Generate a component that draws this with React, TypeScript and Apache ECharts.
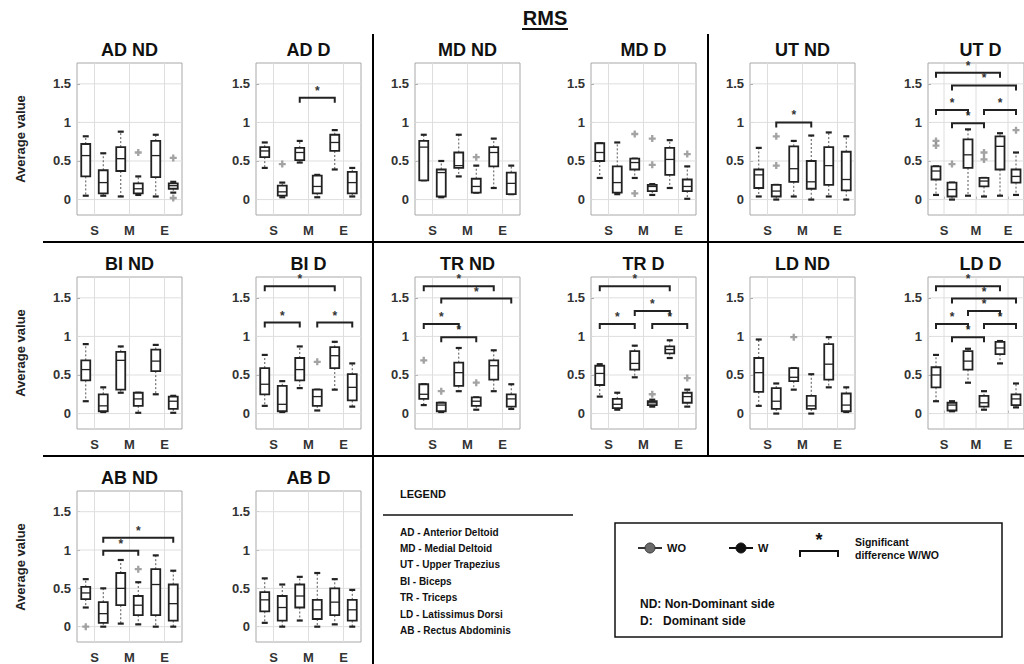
import React, { useEffect, useRef } from "react";
import * as echarts from "echarts";

// ---------- DATA ----------
const POSITIONS = [1, 2, 3, 4, 5, 6]; // S-WO, S-W, M-WO, M-W, E-WO, E-W
const X_TICKS = [1.5, 3.5, 5.5];
const X_LABELS = ["S", "M", "E"];
const Y_TICKS = [0, 0.5, 1, 1.5];
const Y_MIN = -0.2;
const Y_MAX = 1.77;

// each box: [lower whisker, Q1, median, Q3, upper whisker]
const AD_ND_BOXES = [[0.05, 0.30, 0.57, 0.72, 0.82], [0.05, 0.08, 0.22, 0.38, 0.60], [0.04, 0.37, 0.53, 0.68, 0.88], [0.06, 0.08, 0.14, 0.21, 0.30], [0.04, 0.29, 0.57, 0.76, 0.84], [0.09, 0.14, 0.18, 0.21, 0.23]];
const AD_ND_OUTLIERS = [[4, 0.61], [6, 0.54], [6, 0.02]];
const AD_ND_BRACKETS: number[][] = [];

const AD_D_BOXES = [[0.41, 0.55, 0.63, 0.68, 0.74], [0.03, 0.05, 0.10, 0.18, 0.22], [0.48, 0.51, 0.61, 0.67, 0.76], [0.03, 0.08, 0.17, 0.31, 0.32], [0.39, 0.63, 0.74, 0.84, 0.90], [0.04, 0.08, 0.22, 0.36, 0.41]];
const AD_D_OUTLIERS = [[2, 0.46]];
const AD_D_BRACKETS = [[3, 5, 1.32]];

const MD_ND_BOXES = [[0.25, 0.25, 0.68, 0.76, 0.84], [0.03, 0.04, 0.35, 0.39, 0.50], [0.30, 0.41, 0.44, 0.61, 0.84], [0.09, 0.09, 0.17, 0.27, 0.44], [0.15, 0.43, 0.61, 0.68, 0.79], [0.07, 0.07, 0.21, 0.35, 0.44]];
const MD_ND_OUTLIERS = [[4, 0.55]];
const MD_ND_BRACKETS: number[][] = [];

const MD_D_BOXES = [[0.28, 0.50, 0.61, 0.73, 0.73], [0.07, 0.09, 0.22, 0.43, 0.74], [0.28, 0.39, 0.48, 0.53, 0.53], [0.06, 0.11, 0.17, 0.19, 0.20], [0.15, 0.32, 0.52, 0.67, 0.77], [0.01, 0.11, 0.17, 0.26, 0.43]];
const MD_D_OUTLIERS = [[3, 0.85], [3, 0.08], [4, 0.79], [4, 0.45], [6, 0.59]];
const MD_D_BRACKETS: number[][] = [];

const UT_ND_BOXES = [[0.04, 0.15, 0.32, 0.39, 0.67], [0.0, 0.04, 0.11, 0.19, 0.19], [0.04, 0.23, 0.40, 0.69, 0.76], [0.0, 0.14, 0.23, 0.50, 0.83], [0.04, 0.19, 0.44, 0.68, 0.87], [0.0, 0.12, 0.26, 0.62, 0.82]];
const UT_ND_OUTLIERS = [[2, 0.82], [2, 0.44]];
const UT_ND_BRACKETS = [[2, 4, 1.0]];

const UT_D_BOXES = [[0.06, 0.26, 0.37, 0.43, 0.43], [0.0, 0.04, 0.13, 0.22, 0.22], [0.05, 0.41, 0.58, 0.78, 0.91], [0.04, 0.17, 0.24, 0.28, 0.28], [0.05, 0.39, 0.69, 0.82, 0.86], [0.06, 0.22, 0.30, 0.39, 0.61]];
const UT_D_OUTLIERS = [[1, 0.76], [1, 0.70], [2, 0.46], [4, 0.61], [4, 0.52], [6, 0.90]];
const UT_D_BRACKETS = [[1, 5, 1.645], [2, 6, 1.48], [1, 3, 1.16], [4, 6, 1.16], [2, 4, 0.99]];

const BI_ND_BOXES = [[0.16, 0.43, 0.57, 0.69, 0.90], [0.02, 0.03, 0.10, 0.25, 0.34], [0.27, 0.31, 0.69, 0.80, 0.87], [0.01, 0.10, 0.19, 0.27, 0.27], [0.25, 0.55, 0.68, 0.83, 0.89], [0.01, 0.06, 0.16, 0.22, 0.23]];
const BI_ND_OUTLIERS: number[][] = [];
const BI_ND_BRACKETS: number[][] = [];

const BI_D_BOXES = [[0.10, 0.25, 0.38, 0.59, 0.76], [0.02, 0.03, 0.12, 0.36, 0.42], [0.33, 0.43, 0.57, 0.72, 0.87], [0.04, 0.10, 0.22, 0.31, 0.31], [0.31, 0.59, 0.75, 0.86, 0.93], [0.09, 0.17, 0.34, 0.51, 0.65]];
const BI_D_OUTLIERS = [[4, 0.67]];
const BI_D_BRACKETS = [[1, 5, 1.65], [1, 3, 1.18], [4, 6, 1.18]];

const TR_ND_BOXES = [[0.11, 0.19, 0.25, 0.38, 0.38], [0.02, 0.03, 0.11, 0.14, 0.14], [0.29, 0.36, 0.53, 0.66, 0.85], [0.05, 0.10, 0.16, 0.21, 0.21], [0.29, 0.44, 0.62, 0.69, 0.82], [0.06, 0.09, 0.19, 0.25, 0.38]];
const TR_ND_OUTLIERS = [[1, 0.69], [2, 0.29], [4, 0.40]];
const TR_ND_BRACKETS = [[1, 5, 1.65], [2, 6, 1.49], [1, 3, 1.16], [2, 4, 0.99]];

const TR_D_BOXES = [[0.22, 0.37, 0.52, 0.62, 0.64], [0.05, 0.07, 0.12, 0.19, 0.27], [0.47, 0.57, 0.65, 0.81, 0.88], [0.09, 0.11, 0.14, 0.16, 0.18], [0.72, 0.78, 0.83, 0.87, 0.95], [0.09, 0.14, 0.22, 0.27, 0.31]];
const TR_D_OUTLIERS = [[4, 0.25], [6, 0.46]];
const TR_D_BRACKETS = [[1, 5, 1.65], [3, 5, 1.33], [1, 3, 1.16], [4, 6, 1.16]];

const LD_ND_BOXES = [[0.10, 0.28, 0.53, 0.72, 0.96], [0.0, 0.06, 0.16, 0.33, 0.39], [0.31, 0.42, 0.47, 0.59, 0.59], [0.0, 0.06, 0.10, 0.23, 0.51], [0.34, 0.44, 0.64, 0.90, 0.99], [0.02, 0.03, 0.11, 0.26, 0.34]];
const LD_ND_OUTLIERS = [[3, 0.99]];
const LD_ND_BRACKETS: number[][] = [];

const LD_D_BOXES = [[0.16, 0.34, 0.50, 0.60, 0.76], [0.03, 0.04, 0.11, 0.14, 0.16], [0.40, 0.57, 0.68, 0.81, 0.84], [0.05, 0.09, 0.14, 0.23, 0.29], [0.65, 0.77, 0.85, 0.93, 0.94], [0.08, 0.11, 0.19, 0.25, 0.39]];
const LD_D_OUTLIERS: number[][] = [];
const LD_D_BRACKETS = [[1, 5, 1.65], [2, 6, 1.49], [3, 5, 1.33], [1, 3, 1.16], [4, 6, 1.16], [2, 4, 0.99]];

const AB_ND_BOXES = [[0.25, 0.36, 0.44, 0.52, 0.62], [0.0, 0.05, 0.17, 0.32, 0.50], [0.04, 0.28, 0.50, 0.70, 0.87], [0.03, 0.15, 0.28, 0.40, 0.58], [0.0, 0.15, 0.55, 0.75, 0.93], [0.0, 0.08, 0.30, 0.55, 0.73]];
const AB_ND_OUTLIERS = [[1, 0.0], [4, 0.75]];
const AB_ND_BRACKETS = [[2, 6, 1.16], [2, 4, 0.99]];

const AB_D_BOXES = [[0.05, 0.20, 0.35, 0.45, 0.63], [0.0, 0.08, 0.25, 0.40, 0.55], [0.08, 0.25, 0.40, 0.55, 0.65], [0.0, 0.10, 0.22, 0.35, 0.70], [0.03, 0.15, 0.32, 0.50, 0.62], [0.0, 0.08, 0.22, 0.35, 0.48]];
const AB_D_OUTLIERS: number[][] = [];
const AB_D_BRACKETS: number[][] = [];

const PANEL_TITLES = ["AD ND", "AD D", "MD ND", "MD D", "UT ND", "UT D", "BI ND", "BI D", "TR ND", "TR D", "LD ND", "LD D", "AB ND", "AB D"];
const PANEL_BOXES = [AD_ND_BOXES, AD_D_BOXES, MD_ND_BOXES, MD_D_BOXES, UT_ND_BOXES, UT_D_BOXES, BI_ND_BOXES, BI_D_BOXES, TR_ND_BOXES, TR_D_BOXES, LD_ND_BOXES, LD_D_BOXES, AB_ND_BOXES, AB_D_BOXES];
const PANEL_OUTLIERS = [AD_ND_OUTLIERS, AD_D_OUTLIERS, MD_ND_OUTLIERS, MD_D_OUTLIERS, UT_ND_OUTLIERS, UT_D_OUTLIERS, BI_ND_OUTLIERS, BI_D_OUTLIERS, TR_ND_OUTLIERS, TR_D_OUTLIERS, LD_ND_OUTLIERS, LD_D_OUTLIERS, AB_ND_OUTLIERS, AB_D_OUTLIERS];
const PANEL_BRACKETS = [AD_ND_BRACKETS, AD_D_BRACKETS, MD_ND_BRACKETS, MD_D_BRACKETS, UT_ND_BRACKETS, UT_D_BRACKETS, BI_ND_BRACKETS, BI_D_BRACKETS, TR_ND_BRACKETS, TR_D_BRACKETS, LD_ND_BRACKETS, LD_D_BRACKETS, AB_ND_BRACKETS, AB_D_BRACKETS];

const LEGEND_ITEMS = ["AD - Anterior Deltoid", "MD - Medial Deltoid", "UT - Upper Trapezius", "BI - Biceps", "TR - Triceps", "LD - Latissimus Dorsi", "AB - Rectus Abdominis"];

// ---------- LAYOUT ----------
const COL_LEFT = [77, 256, 415, 591, 750, 928];
const ROW_TOP = [63, 277, 491];
const PLOT_W = 105;
const PLOT_H = 152;
const FONT = '"Liberation Sans", Arial, sans-serif';
const INK = "#222";

function renderGridLines(params: any, api: any) {
  const kind = api.value(0);
  const v = api.value(1);
  const cs = params.coordSys;
  const style = { stroke: "#dedede", lineWidth: 1 };
  if (kind === 0) {
    const x = api.coord([v, 0])[0];
    return { type: "line", shape: { x1: x, y1: cs.y, x2: x, y2: cs.y + cs.height }, style };
  }
  const y = api.coord([1, v])[1];
  return { type: "line", shape: { x1: cs.x, y1: y, x2: cs.x + cs.width, y2: y }, style };
}

function renderBox(params: any, api: any) {
  const x = api.value(0);
  const lo = api.coord([x, api.value(1)]);
  const q1 = api.coord([x, api.value(2)]);
  const med = api.coord([x, api.value(3)]);
  const q3 = api.coord([x, api.value(4)]);
  const hi = api.coord([x, api.value(5)]);
  const cx = q1[0];
  const hw = 4.5;
  const cw = 3;
  const thin = { stroke: "#555", lineWidth: 1, lineDash: [2, 2] };
  const cap = { stroke: INK, lineWidth: 2.2 };
  return {
    type: "group",
    children: [
      { type: "line", shape: { x1: cx, y1: q3[1], x2: cx, y2: hi[1] }, style: thin },
      { type: "line", shape: { x1: cx, y1: q1[1], x2: cx, y2: lo[1] }, style: thin },
      { type: "line", shape: { x1: cx - cw, y1: hi[1], x2: cx + cw, y2: hi[1] }, style: cap },
      { type: "line", shape: { x1: cx - cw, y1: lo[1], x2: cx + cw, y2: lo[1] }, style: cap },
      { type: "rect", shape: { x: cx - hw, y: q3[1], width: hw * 2, height: Math.max(1, q1[1] - q3[1]) }, style: { stroke: INK, fill: "#fff", lineWidth: 1.8 } },
      { type: "line", shape: { x1: cx - hw, y1: med[1], x2: cx + hw, y2: med[1] }, style: { stroke: INK, lineWidth: 1.3 } },
    ],
  };
}

function renderBracket(params: any, api: any) {
  const p1 = api.coord([api.value(0), api.value(2)]);
  const p2 = api.coord([api.value(1), api.value(2)]);
  return {
    type: "group",
    children: [
      { type: "polyline", shape: { points: [[p1[0], p1[1] + 5], [p1[0], p1[1]], [p2[0], p2[1]], [p2[0], p2[1] + 5]] }, style: { stroke: INK, lineWidth: 2, fill: "none" } },
      { type: "text", x: (p1[0] + p2[0]) / 2, y: p1[1] - 1, style: { text: "*", fontSize: 12, fontWeight: "bold", fill: "#333", align: "center", verticalAlign: "bottom", fontFamily: FONT } },
    ],
  };
}

const PLUS = "path://M2,0H4V2H6V4H4V6H2V4H0V2H2Z";

export default function App() {
  const ref = useRef<HTMLDivElement>(null);

  useEffect(() => {
    if (!ref.current) return;
    const chart = echarts.init(ref.current, undefined, { renderer: "svg" });

    const grids: any[] = [];
    const xAxes: any[] = [];
    const yAxes: any[] = [];
    const series: any[] = [];
    const graphics: any[] = [];

    PANEL_TITLES.forEach((title, i) => {
      const row = Math.floor(i / 6);
      const col = i % 6;
      const left = COL_LEFT[col];
      const top = ROW_TOP[row];
      grids.push({ left, top, width: PLOT_W, height: PLOT_H, show: true, borderColor: "#a8a8a8", borderWidth: 1, backgroundColor: "#fff", containLabel: false });
      xAxes.push({
        type: "value", gridIndex: i, min: 0.5, max: 6.5,
        axisLine: { show: false },
        splitLine: { show: false },
        axisTick: { show: true, inside: true, length: 3, customValues: X_TICKS, lineStyle: { color: "#999" } },
        axisLabel: {
          customValues: X_TICKS, margin: 9, color: "#333", fontWeight: "bold", fontSize: 13, fontFamily: FONT,
          formatter: (v: number) => { const k = X_TICKS.indexOf(v); return k >= 0 ? X_LABELS[k] : ""; },
        },
      });
      yAxes.push({
        type: "value", gridIndex: i, min: Y_MIN, max: Y_MAX,
        axisLine: { show: false },
        splitLine: { show: false },
        axisTick: { show: true, inside: true, length: 3, customValues: Y_TICKS, lineStyle: { color: "#999" } },
        axisLabel: {
          customValues: Y_TICKS, margin: 6, color: "#333", fontWeight: "bold", fontSize: 13, fontFamily: FONT,
          formatter: (v: number) => String(v),
        },
      });
      const gridData = [...X_TICKS.map((v) => [0, v]), ...Y_TICKS.map((v) => [1, v])];
      series.push({ type: "custom", xAxisIndex: i, yAxisIndex: i, z: 1, silent: true, renderItem: renderGridLines, data: gridData });
      series.push({
        type: "custom", xAxisIndex: i, yAxisIndex: i, z: 3, renderItem: renderBox,
        encode: { x: 0, y: [1, 2, 3, 4, 5] },
        data: PANEL_BOXES[i].map((b, k) => [POSITIONS[k], ...b]),
      });
      series.push({
        type: "scatter", xAxisIndex: i, yAxisIndex: i, z: 4, symbol: PLUS, symbolSize: 7,
        itemStyle: { color: "#8c8c8c" }, data: PANEL_OUTLIERS[i],
      });
      series.push({
        type: "custom", xAxisIndex: i, yAxisIndex: i, z: 5, renderItem: renderBracket, clip: false,
        encode: { x: [0, 1], y: 2 },
        data: PANEL_BRACKETS[i],
      });
      graphics.push({
        type: "text", x: left + PLOT_W / 2, y: top - 13,
        style: { text: title, fontSize: 18, fontWeight: "bold", fill: "#111", fontFamily: FONT, align: "center", verticalAlign: "middle" },
      });
      if (col === 0) {
        graphics.push({
          type: "text", x: 20, y: top + PLOT_H / 2, rotation: Math.PI / 2,
          style: { text: "Average value", fontSize: 13, fontWeight: "bold", fill: "#222", fontFamily: FONT, align: "center", verticalAlign: "middle" },
        });
      }
    });

    // Figure title
    graphics.push({ type: "text", x: 545, y: 18, style: { text: "RMS", fontSize: 20, fontWeight: "bold", fill: "#111", fontFamily: FONT, align: "center", verticalAlign: "middle" } });
    graphics.push({ type: "line", shape: { x1: 522, y1: 29, x2: 568, y2: 29 }, style: { stroke: "#111", lineWidth: 1.8 } });

    // Divider lines
    const div = { stroke: "#000", lineWidth: 2 };
    graphics.push({ type: "line", shape: { x1: 373, y1: 34, x2: 373, y2: 664 }, style: div });
    graphics.push({ type: "line", shape: { x1: 708, y1: 34, x2: 708, y2: 456 }, style: div });
    graphics.push({ type: "line", shape: { x1: 43, y1: 242, x2: 1024, y2: 242 }, style: div });
    graphics.push({ type: "line", shape: { x1: 43, y1: 456, x2: 1024, y2: 456 }, style: div });

    // Legend list
    graphics.push({ type: "text", x: 400, y: 494, style: { text: "LEGEND", fontSize: 11, fontWeight: "bold", fill: "#111", fontFamily: FONT, verticalAlign: "middle" } });
    graphics.push({ type: "line", shape: { x1: 383, y1: 515, x2: 573, y2: 515 }, style: { stroke: "#111", lineWidth: 1.5 } });
    LEGEND_ITEMS.forEach((t, k) => {
      graphics.push({ type: "text", x: 400, y: 532 + k * 16.4, style: { text: t, fontSize: 10, fontWeight: "bold", fill: "#111", fontFamily: FONT, verticalAlign: "middle" } });
    });

    // Legend box
    graphics.push({ type: "rect", shape: { x: 615, y: 523, width: 387, height: 114 }, style: { stroke: "#111", lineWidth: 1.5, fill: "none" } });
    graphics.push({ type: "line", shape: { x1: 638, y1: 548, x2: 662, y2: 548 }, style: { stroke: "#333", lineWidth: 2 } });
    graphics.push({ type: "circle", shape: { cx: 650, cy: 548, r: 5 }, style: { fill: "#6a6a6a", stroke: "#333", lineWidth: 1 } });
    graphics.push({ type: "text", x: 667, y: 548, style: { text: "WO", fontSize: 11, fontWeight: "bold", fill: "#111", fontFamily: FONT, verticalAlign: "middle" } });
    graphics.push({ type: "line", shape: { x1: 729, y1: 548, x2: 753, y2: 548 }, style: { stroke: "#111", lineWidth: 2 } });
    graphics.push({ type: "circle", shape: { cx: 741, cy: 548, r: 5 }, style: { fill: "#111", stroke: "#111", lineWidth: 1 } });
    graphics.push({ type: "text", x: 758, y: 548, style: { text: "W", fontSize: 11, fontWeight: "bold", fill: "#111", fontFamily: FONT, verticalAlign: "middle" } });
    graphics.push({ type: "polyline", shape: { points: [[800, 557], [800, 551], [838, 551], [838, 557]] }, style: { stroke: "#111", lineWidth: 2, fill: "none" } });
    graphics.push({ type: "text", x: 819, y: 549, style: { text: "*", fontSize: 18, fontWeight: "bold", fill: "#111", fontFamily: FONT, align: "center", verticalAlign: "bottom" } });
    graphics.push({ type: "text", x: 855, y: 542, style: { text: "Significant", fontSize: 10.5, fontWeight: "bold", fill: "#111", fontFamily: FONT, verticalAlign: "middle" } });
    graphics.push({ type: "text", x: 855, y: 555, style: { text: "difference W/WO", fontSize: 10.5, fontWeight: "bold", fill: "#111", fontFamily: FONT, verticalAlign: "middle" } });
    graphics.push({ type: "text", x: 640, y: 604, style: { text: "ND: Non-Dominant side", fontSize: 12, fontWeight: "bold", fill: "#111", fontFamily: FONT, verticalAlign: "middle" } });
    graphics.push({ type: "text", x: 640, y: 621, style: { text: "D:", fontSize: 12, fontWeight: "bold", fill: "#111", fontFamily: FONT, verticalAlign: "middle" } });
    graphics.push({ type: "text", x: 663, y: 621, style: { text: "Dominant side", fontSize: 12, fontWeight: "bold", fill: "#111", fontFamily: FONT, verticalAlign: "middle" } });

    chart.setOption({
      animation: false,
      backgroundColor: "#fff",
      grid: grids,
      xAxis: xAxes,
      yAxis: yAxes,
      series,
      graphic: { elements: graphics },
    });

    return () => chart.dispose();
  }, []);

  return <div ref={ref} style={{ position: "fixed", left: 0, top: 0, width: 1024, height: 664, background: "#fff" }} />;
}
